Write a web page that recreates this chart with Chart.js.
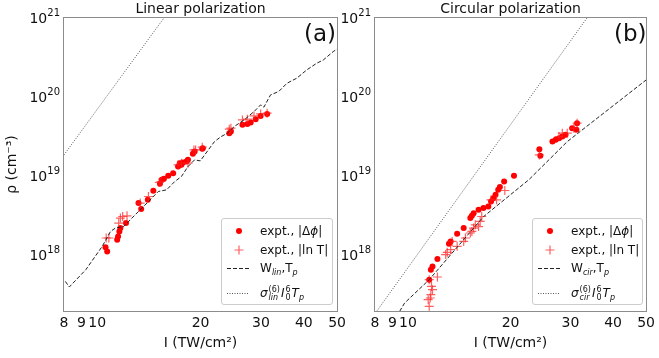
<!DOCTYPE html>
<html>
<head>
<meta charset="utf-8">
<script src="https://cdn.jsdelivr.net/npm/chart.js@4.4.0/dist/chart.umd.min.js"></script>
<style>
body { margin: 0; background: #fff; font-family: "DejaVu Sans", sans-serif; }
#wrap { position: relative; width: 659px; height: 358px; overflow: hidden; }
.panel { position: absolute; top: 0; height: 358px; }
#pa { left: 0; width: 350px; }
#pb { left: 330px; width: 329px; }
.tag { position: absolute; top: 19px; font-size: 23px; line-height: 28px; color: #111; }
.legend { position: absolute; top: 218px; height: 87px; border: 1px solid #ccc; border-radius: 3px;
  background: rgba(255,255,255,0.85); font-size: 12px; color: #111; box-sizing: border-box; }
.row { position: absolute; left: 0; right: 0; height: 18px; line-height: 18px; white-space: nowrap; }
.row svg { position: absolute; left: 4px; top: 0; }
.row .txt { position: absolute; left: 38px; top: 0; }
.ss { display: inline-flex; flex-direction: column; font-size: 8px; line-height: 8px; vertical-align: 5px; margin: 0 1px; }
sub { font-size: 8px; }
</style>
</head>
<body>
<div id="wrap">
  <div class="panel" id="pa"><canvas id="chartA"></canvas></div>
  <div class="panel" id="pb"><canvas id="chartB"></canvas></div>
  <div class="tag" style="left:304px">(a)</div>
  <div class="tag" style="left:614px">(b)</div>
  <div class="legend" id="legA" style="left:221px;width:112px"></div>
  <div class="legend" id="legB" style="left:532px;width:111px"></div>
</div>
<script>
// axis ticks
var xTickValues = [8, 9, 10, 20, 30, 40, 50];
var yTickValues = [1e18, 1e19, 1e20, 1e21];

// (a) linear polarization
var linDotI = [10.57, 10.69, 11.43, 11.50, 11.60, 11.68, 12.13, 13.43, 13.19, 14.04, 14.57, 15.23, 15.41, 15.64, 16.10, 16.64,
  17.20, 17.40, 17.59, 17.78, 18.19, 18.38, 19.00, 19.22, 20.23, 20.31, 24.25, 24.52, 26.49, 27.38, 28.00, 28.95, 29.93, 31.27];
var linDotRho = [1.28e18, 1.13e18, 1.59e18, 1.75e18, 2.02e18, 2.23e18, 2.58e18, 3.87e18, 4.61e18, 5.07e18, 6.58e18, 8.07e18,
  9.06e18, 9.33e18, 1.02e19, 1.10e19, 1.33e19, 1.47e19, 1.40e19, 1.50e19, 1.54e19, 1.62e19, 1.93e19, 2.06e19, 2.23e19, 2.27e19,
  3.52e19, 3.68e19, 4.48e19, 4.60e19, 4.79e19, 5.28e19, 5.81e19, 6.15e19];
var linPlusI = [10.62, 10.81, 11.55, 11.68, 11.86, 12.21, 13.34, 14.10, 15.16, 15.33, 17.20, 17.59, 18.38, 19.13, 19.35, 20.23,
  24.25, 24.52, 26.49, 27.38, 28.63, 29.93, 31.27];
var linPlusRho = [1.67e18, 1.67e18, 2.58e18, 2.98e18, 3.12e18, 3.18e18, 4.61e18, 5.58e18, 8.38e18, 8.63e18, 1.40e19, 1.47e19,
  1.47e19, 2.16e19, 2.16e19, 2.34e19, 3.95e19, 4.06e19, 5.17e19, 5.28e19, 5.81e19, 6.15e19, 6.28e19];
var linWI = [8.07, 8.29, 9.26, 10.34, 10.93, 11.30, 11.94, 12.90, 14.10, 15.06, 15.93, 16.83, 17.59, 18.38, 19.22, 19.96, 21.95,
  22.95, 23.97, 25.07, 26.79, 28.63, 29.93, 30.59, 31.99, 33.80, 35.71, 38.16, 40.78, 43.58, 45.57, 48.69, 50];
var linWRho = [4.73e17, 4.02e17, 6.64e17, 1.31e18, 2.02e18, 2.23e18, 2.33e18, 3.28e18, 4.82e18, 6.45e18, 6.78e18, 8.63e18,
  9.97e18, 1.33e19, 1.62e19, 1.57e19, 2.75e19, 3.18e19, 3.52e19, 4.26e19, 5.17e19, 6.58e19, 8.00e19, 7.48e19, 1.07e20, 1.18e20,
  1.50e20, 1.74e20, 2.21e20, 2.68e20, 2.95e20, 3.76e20, 4.06e20];
var linSigI = [8, 15.64];
var linSigRho = [1.87e19, 1.0e21];

// (b) circular polarization
var cirDotI = [11.54, 11.67, 11.80, 12.20, 13.19, 13.34, 13.94, 14.57, 15.24, 15.40, 15.58, 16.11, 16.65, 17.21, 17.53, 17.80,
  18.07, 18.40, 18.61, 19.15, 20.47, 24.30, 24.46, 26.55, 27.14, 27.76, 28.38, 29.01, 30.33, 31.36, 31.22];
var cirDotRho = [4.97e17, 6.64e17, 7.31e17, 9.06e17, 1.41e18, 1.51e18, 1.89e18, 2.23e18, 2.98e18, 3.18e18, 3.44e18, 3.79e18,
  3.98e18, 4.17e18, 4.82e18, 5.32e18, 5.86e18, 6.78e18, 7.33e18, 8.63e18, 1.02e19, 2.21e19, 1.82e19, 2.75e19, 2.90e19, 3.04e19,
  3.18e19, 3.35e19, 4.06e19, 4.70e19, 3.87e19];
var cirPlusI = [11.54, 11.46, 11.62, 11.67, 11.80, 11.72, 11.54, 12.20, 12.90, 13.04, 13.34, 13.48, 13.94, 14.57, 14.74, 15.24,
  15.40, 15.58, 15.76, 16.11, 16.29, 16.46, 17.53, 18.19, 19.24, 24.30, 27.76, 28.38, 29.34, 30.68, 31.36];
var cirPlusRho = [2.29e17, 2.78e17, 2.92e17, 3.21e17, 3.72e17, 4.09e17, 4.97e17, 5.37e17, 1.03e18, 1.10e18, 1.19e18, 1.51e18,
  1.31e18, 1.51e18, 1.67e18, 1.93e18, 2.02e18, 2.23e18, 2.45e18, 2.33e18, 2.70e18, 3.12e18, 5.07e18, 5.07e18, 6.64e18, 1.87e19,
  3.18e19, 3.52e19, 3.52e19, 4.06e19, 4.70e19];
var cirWI = [9.45, 9.77, 11.54, 16.65, 22.62, 29.34, 50];
var cirWRho = [1.98e17, 2.52e17, 4.97e17, 3.1e18, 9.06e18, 2.75e19, 1.65e20];
var cirSigI = [8.09, 33.52];
var cirSigRho = [1.98e17, 1.0e21];

function pts(xs, ys) {
    return xs.map(function(x, i) { return { x: x, y: ys[i] }; });
}

var frame = {
    id: 'frame',
    afterDraw: function(chart, args, opts) {
        var ctx = chart.ctx, a = chart.chartArea, ys = chart.scales.y;
        ctx.save();
        ctx.strokeStyle = '#8c8c8c';
        ctx.lineWidth = 1;
        ctx.strokeRect(Math.round(a.left) - 0.5, Math.round(a.top) - 0.5, Math.round(a.right - a.left) + 1, Math.round(a.bottom - a.top) + 1);
        ctx.fillStyle = '#111';
        ctx.font = '14px "DejaVu Sans"';
        ctx.textAlign = 'center';
        ctx.textBaseline = 'middle';
        ctx.fillText(opts.title, (a.left + a.right) / 2, 9);
        // y tick labels as 10 with superscript exponent
        ctx.textAlign = 'left';
        yTickValues.forEach(function(v) {
            var py = ys.getPixelForValue(v);
            var e = String(Math.round(Math.log10(v)));
            ctx.font = '10px "DejaVu Sans"';
            var we = ctx.measureText(e).width;
            ctx.font = '14px "DejaVu Sans"';
            var wm = ctx.measureText('10').width;
            var right = a.left - 4;
            ctx.fillText('10', right - we - wm, py + 1);
            ctx.font = '10px "DejaVu Sans"';
            ctx.fillText(e, right - we, py - 5);
        });
        ctx.restore();
    }
};

function makeChart(id, dots, plus, wLine, sigLine, title, yWidth, padRight, showYTitle) {
    return new Chart(document.getElementById(id), {
        type: 'scatter',
        data: {
            datasets: [
                { data: sigLine, showLine: true, pointRadius: 0, borderColor: '#555', borderWidth: 1, borderDash: [1, 1.5] },
                { data: wLine, showLine: true, pointRadius: 0, borderColor: '#222', borderWidth: 1, borderDash: [4, 2] },
                { data: plus, pointStyle: 'cross', pointRadius: 4.5, borderColor: 'rgba(255,30,30,0.7)', borderWidth: 1.2 },
                { data: dots, pointStyle: 'circle', pointRadius: 3, backgroundColor: 'rgb(255,0,0)', borderWidth: 0 }
            ]
        },
        options: {
            responsive: true,
            maintainAspectRatio: false,
            animation: false,
            events: [],
            layout: { padding: { left: 0, top: 18, right: padRight, bottom: 0 } },
            plugins: {
                legend: { display: false },
                tooltip: { enabled: false },
                frame: { title: title }
            },
            scales: {
                x: {
                    type: 'logarithmic',
                    min: 8,
                    max: 50,
                    grid: { display: false, drawTicks: false },
                    border: { display: false },
                    afterBuildTicks: function(s) { s.ticks = xTickValues.map(function(v) { return { value: v }; }); },
                    afterFit: function(s) { s.height = 47; },
                    ticks: {
                        autoSkip: false,
                        maxRotation: 0,
                        padding: 4,
                        color: '#111',
                        font: { family: 'DejaVu Sans', size: 14 },
                        callback: function(v) { return String(v); }
                    },
                    title: {
                        display: true,
                        text: 'I (TW/cm²)',
                        color: '#111',
                        font: { family: 'DejaVu Sans', size: 14 },
                        padding: { top: 0, bottom: 6 }
                    }
                },
                y: {
                    type: 'logarithmic',
                    min: 2e17,
                    max: 1e21,
                    grid: { display: false, drawTicks: false },
                    border: { display: false },
                    afterBuildTicks: function(s) { s.ticks = yTickValues.map(function(v) { return { value: v }; }); },
                    afterFit: function(s) { s.width = yWidth; },
                    ticks: { display: false },
                    title: {
                        display: showYTitle,
                        text: 'ρ (cm⁻³)',
                        color: '#111',
                        font: { family: 'DejaVu Sans', size: 14 },
                        padding: { top: 4, bottom: 0 }
                    }
                }
            }
        },
        plugins: [frame]
    });
}

makeChart('chartA', pts(linDotI, linDotRho), pts(linPlusI, linPlusRho), pts(linWI, linWRho), pts(linSigI, linSigRho),
    'Linear polarization', 64, 10, true);
makeChart('chartB', pts(cirDotI, cirDotRho), pts(cirPlusI, cirPlusRho), pts(cirWI, cirWRho), pts(cirSigI, cirSigRho),
    'Circular polarization', 45, 9, false);

// legends with sub/superscripts
function legendHtml(sub) {
    var dot = '<svg width="26" height="18"><circle cx="13" cy="9" r="3" fill="red"/></svg>';
    var plus = '<svg width="26" height="18"><path d="M8.5 9H17.5M13 4.5V13.5" stroke="rgba(255,30,30,0.7)" stroke-width="1.2"/></svg>';
    var dash = '<svg width="26" height="18"><line x1="1" y1="9.5" x2="23" y2="9.5" stroke="#222" stroke-width="1" stroke-dasharray="4 2"/></svg>';
    var dotted = '<svg width="26" height="18"><line x1="1" y1="9.5" x2="23" y2="9.5" stroke="#555" stroke-width="1" stroke-dasharray="1 1.5"/></svg>';
    return '<div class="row" style="top:3px">' + dot + '<span class="txt">expt., |Δ<i>ϕ</i>|</span></div>' +
        '<div class="row" style="top:22px">' + plus + '<span class="txt">expt., |ln T|</span></div>' +
        '<div class="row" style="top:40px">' + dash + '<span class="txt">W<sub><i>' + sub + '</i></sub>,T<sub><i>p</i></sub></span></div>' +
        '<div class="row" style="top:65px">' + dotted + '<span class="txt"><i>σ</i><span class="ss"><span>(6)</span><span><i>' + sub +
        '</i></span></span><i>I</i><span class="ss"><span>6</span><span>0</span></span><i>T</i><sub><i>p</i></sub></span></div>';
}
document.getElementById('legA').innerHTML = legendHtml('lin');
document.getElementById('legB').innerHTML = legendHtml('cir');
</script>
</body>
</html>
